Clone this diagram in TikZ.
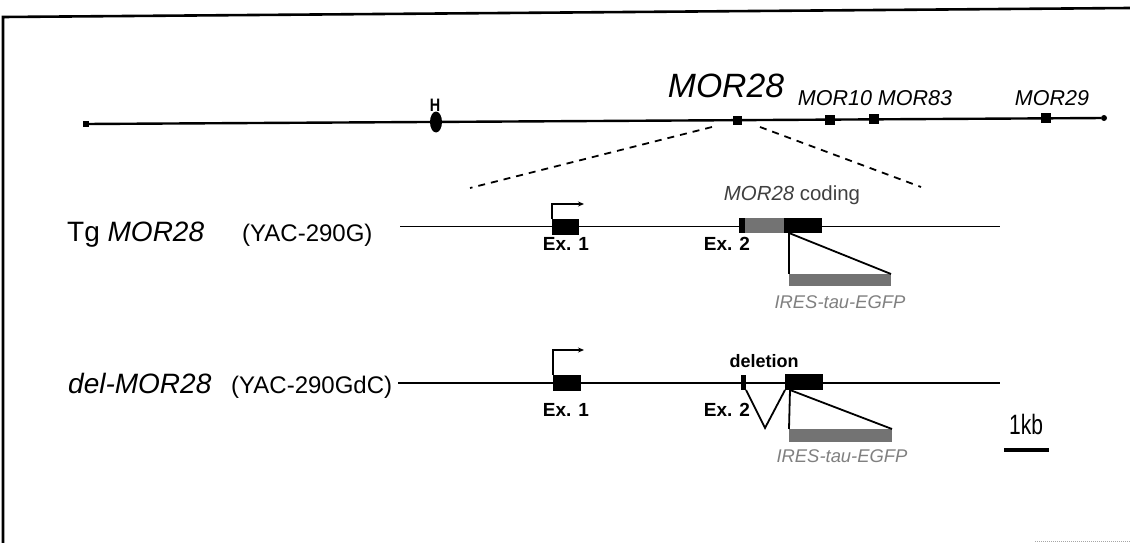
\documentclass[tikz,border=0pt]{standalone}
\usepackage{fontspec}
\setmainfont{Liberation Sans}
\usetikzlibrary{arrows.meta,shapes.geometric}
\newcommand{\fs}[1]{\fontsize{#1}{#1}\selectfont}
\begin{document}
\begin{tikzpicture}[x=1pt,y=-1pt,
  box/.style={draw=none,fill=black,inner sep=0pt,outer sep=0pt,minimum width=#1},
  greybox/.style={draw=none,fill=black!55,inner sep=0pt,outer sep=0pt,minimum width=#1},
  locus/.style={draw=none,fill=black,inner sep=0pt,minimum size=#1},
  lbl/.style={inner sep=0pt,anchor=base},
  exlbl/.style={lbl,font=\fs{19}\bfseries},
  genomic/.style={line width=2.4pt},
  construct/.style={line width=1.8pt},
  thin/.style={line width=1.8pt},
  tss/.style={line width=1.6pt,-{Stealth[length=6pt,width=5pt]}},
  zoomline/.style={line width=1.8pt,dash pattern=on 7pt off 6pt}]
\useasboundingbox (0,0) rectangle (1130,543);

% frame
\draw[line width=2.6pt] (3,543) -- (3,17) -- (1130,8);
\draw[black!35,line width=1pt,densely dotted] (1035,541) -- (1130,541);

% ---------- genomic locus ----------
\node[locus=6pt] (gl) at (86,124) {};
\node[circle,locus=6pt] (gr) at (1104,118) {};
\draw[genomic] (gl) -- (gr);
\node[ellipse,draw=none,fill=black,inner sep=0pt,minimum width=12pt,minimum height=21pt] (hsite) at (436,122) {};
\node[lbl,font=\fs{18}\bfseries] (hlab) at (435,111) {\scalebox{0.8}[1]{H}};
\node[locus=9pt] (m28) at (737,120.2) {};
\node[locus=10pt] (m10) at (830,119.6) {};
\node[locus=10pt] (m83) at (874,119.4) {};
\node[locus=10pt] (m29) at (1046,118.3) {};
\node[lbl,font=\fs{33.7}\itshape] (l28) at (726,97) {MOR28};
\node[lbl,font=\fs{21.5}\itshape] (l10) at (835,106) {MOR10};
\node[lbl,font=\fs{21.5}\itshape] (l83) at (915,106) {MOR83};
\node[lbl,font=\fs{21.5}\itshape] (l29) at (1052,105.5) {MOR29};

% zoom-in lines
\coordinate (zla) at (712,127);
\coordinate (zlb) at (470,188);
\coordinate (zra) at (760,127);
\coordinate (zrb) at (921,187);
\draw[zoomline] (zla) -- (zlb);
\draw[zoomline] (zra) -- (zrb);

% ---------- Tg MOR28 ----------
\node[lbl,anchor=base west,font=\fs{28}] (tgname) at (67,241) {Tg \textit{MOR28}};
\node[lbl,anchor=base west,font=\fs{24}] (tgyac) at (242,241) {(YAC-290G)};
\coordinate (tgs) at (400,226.5);
\coordinate (tge) at (1000,226.5);
\draw[construct] (tgs) -- (tge);
\node[box=27pt,minimum height=16pt] (tgex1) at (565.5,227) {};
\draw[tss] (tgex1.north west) -- ++(0,-15) -- ++(32,0);
\node[box=6pt,minimum height=15pt] (tgex2a) at (742,225.5) {};
\node[greybox=39pt,minimum height=15pt] (tgex2b) at (764.5,225.5) {};
\node[box=38pt,minimum height=15pt] (tgex2c) at (803,225.5) {};
\node[greybox=102pt,minimum height=12pt] (tgires) at (840,280) {};
\coordinate (tgins) at (789,233);
\draw[thin] (tgins) -- (tgires.north west);
\draw[thin] (tgins) -- (tgires.north east);
\node[exlbl] (tgl1) at (566,250) {Ex. 1};
\node[exlbl] (tgl2) at (727,250) {Ex. 2};
\node[lbl,font=\fs{20.4},text=black!75] (tgcod) at (792,200) {\textit{MOR28} coding};
\node[lbl,font=\fs{18.4}\itshape,text=black!50] (tglires) at (840,308) {IRES-tau-EGFP};

% ---------- del-MOR28 ----------
\node[lbl,anchor=base west,font=\fs{28}\itshape] (delname) at (68,393) {del-MOR28};
\node[lbl,anchor=base west,font=\fs{24}] (delyac) at (231,393) {(YAC-290GdC)};
\coordinate (dls) at (398,383);
\coordinate (dle) at (1000,383);
\draw[construct] (dls) -- (dle);
\node[box=28pt,minimum height=16pt] (dex1) at (567,383) {};
\draw[tss] (dex1.north west) -- ++(0,-25) -- ++(31,0);
\node[box=5pt,minimum height=15pt] (dex2) at (743.5,382.5) {};
\node[box=38pt,minimum height=16pt] (dcod) at (804,382) {};
\coordinate (dv) at (765,428);
\draw[thin] (dex2.south east) -- (dv) -- (dcod.south west);
\node[greybox=103pt,minimum height=13pt] (dires) at (840.5,435.5) {};
\coordinate (dins) at (790,390);
\draw[thin] (dins) -- (dires.north west);
\draw[thin] (dins) -- (dires.north east);
\node[lbl,font=\fs{18}\bfseries] (ddel) at (764,367) {deletion};
\node[exlbl] (dl1) at (566,416) {Ex. 1};
\node[exlbl] (dl2) at (727,416) {Ex. 2};
\node[lbl,font=\fs{18.4}\itshape,text=black!50] (dlires) at (842,462) {IRES-tau-EGFP};

% ---------- scale bar ----------
\coordinate (sba) at (1004,450);
\coordinate (sbb) at (1049,450);
\draw[line width=4pt] (sba) -- (sbb);
\node[lbl,font=\fs{28}] (sbl) at (1026,434) {\scalebox{0.75}[1]{1kb}};
\end{tikzpicture}
\end{document}
